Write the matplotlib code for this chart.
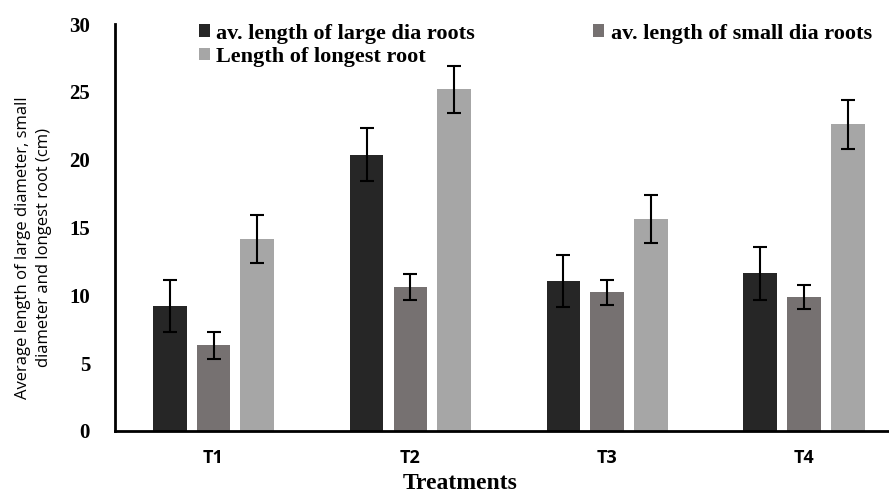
import matplotlib
matplotlib.use("Agg")
import matplotlib.pyplot as plt
import numpy as np

categories = ["T1", "T2", "T3", "T4"]
series_names = ["av. length of large dia roots", "av. length of small dia roots", "Length of longest root"]
large_dia = [9.23, 20.36, 11.08, 11.62]
small_dia = [6.31, 10.59, 10.24, 9.87]
longest = [14.17, 25.18, 15.6, 22.6]
large_err = [1.9, 1.95, 1.92, 1.94]
small_err = [0.98, 0.96, 0.92, 0.91]
longest_err = [1.78, 1.76, 1.77, 1.8]
yticks = [0, 5, 10, 15, 20, 25, 30]

colors = ["#262626", "#767171", "#A6A6A6"]

fig = plt.figure(figsize=(8.89, 4.93), dpi=100)
ax = fig.add_axes([0.1294, 0.1258, 0.8706, 0.8255])

x = np.arange(len(categories))
w = 0.172
pitch = 0.223
vals = [large_dia, small_dia, longest]
errs = [large_err, small_err, longest_err]
handles = []
for i, (v, e, c, n) in enumerate(zip(vals, errs, colors, series_names)):
    b = ax.bar(x + (i - 1) * pitch, v, width=w, color=c, label=n, zorder=2,
               yerr=e, error_kw=dict(ecolor="black", elinewidth=1.5, capsize=5, capthick=1.5))
    handles.append(b)

ax.set_xlim(-0.5, 3.43)
ax.set_ylim(0, 30)
ax.set_yticks(yticks)
ax.set_yticklabels([str(t) for t in yticks], fontfamily="Liberation Serif", fontweight="bold", fontsize=15)
ax.set_xticks(x)
ax.set_xticklabels(categories, fontfamily="Open Sans", fontweight="bold", fontsize=13)
ax.tick_params(axis="y", length=0, pad=18)
ax.tick_params(axis="x", length=0, pad=13)
for s in ["top", "right"]:
    ax.spines[s].set_visible(False)
for s in ["left", "bottom"]:
    ax.spines[s].set_linewidth(2)
    ax.spines[s].set_color("black")

ax.set_xlabel("Treatments", fontfamily="Liberation Serif", fontweight="bold", fontsize=17, labelpad=0)
ax.xaxis.set_label_coords(0.446, -0.103)
fig.text(0.038, 0.497, "Average length of large diameter, small\ndiameter and longest root (cm)",
         rotation=90, ha="center", va="center", fontfamily="Open Sans", fontsize=12, linespacing=1.45)

leg = ax.legend([handles[0], handles[2], handles[1]], [series_names[0], series_names[2], series_names[1]],
                ncol=2, loc="upper left", bbox_to_anchor=(0.082, 1.05), frameon=False,
                prop=dict(family="Liberation Serif", weight="bold", size=16),
                handlelength=0.5, handleheight=0.5, handletextpad=0.3, columnspacing=5.3,
                labelspacing=0.15)

fig.savefig("out.png", dpi=100)
